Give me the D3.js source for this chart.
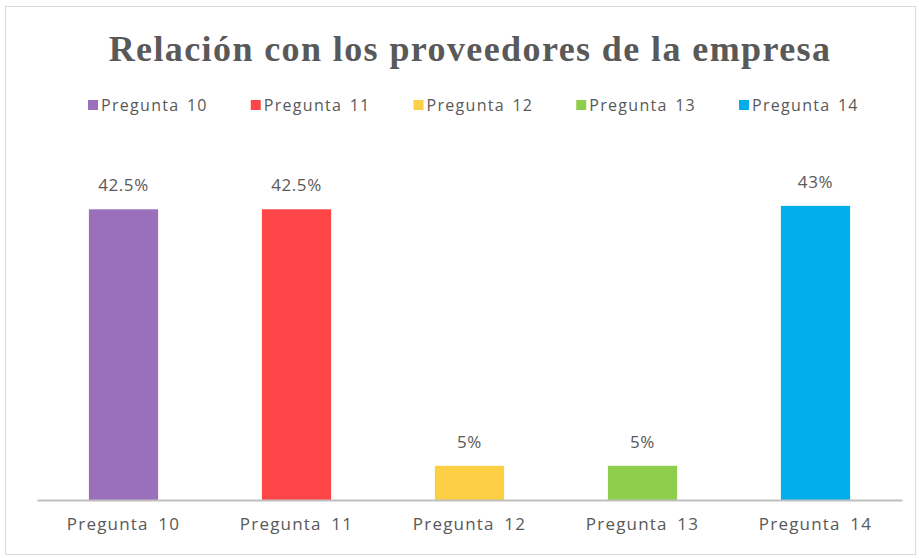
<!DOCTYPE html>
<html>
<head>
<meta charset="utf-8">
<script src="https://cdn.jsdelivr.net/npm/d3@7"></script>
<style>
  body { margin: 0; background: #fff; }
  text { font-family: "Open Sans", "Noto Sans", sans-serif; fill: #595959; }
</style>
</head>
<body>
<div id="chart"></div>
<script>
// Data
let categories = ['Pregunta 10', 'Pregunta 11', 'Pregunta 12', 'Pregunta 13', 'Pregunta 14'];
let values = [42.5, 42.5, 5, 5, 43];
let valueLabels = ['42.5%', '42.5%', '5%', '5%', '43%'];
let colors = ['#9a6fbc', '#fe4548', '#fdcf45', '#8fcd4c', '#01aeeb'];

let W = 919, H = 558;
let margin = { top: 158, right: 17, bottom: 58, left: 37 },
    width = W - margin.left - margin.right,
    height = H - margin.top - margin.bottom;

let svg = d3.select('#chart')
    .append('svg')
    .attr('width', W)
    .attr('height', H);

// chart frame
svg.append('rect')
    .attr('x', 5.5).attr('y', 6.5)
    .attr('width', W - 9).attr('height', H - 10)
    .attr('fill', '#fff')
    .attr('stroke', '#d9d9d9');

// Title
svg.append('text')
    .attr('x', 470)
    .attr('y', 61)
    .attr('text-anchor', 'middle')
    .style('font-family', '"Liberation Serif", "DejaVu Serif", serif')
    .style('font-weight', 'bold')
    .style('font-size', '36px')
    .style('letter-spacing', '1.4px')
    .text('Relación con los proveedores de la empresa');

// Legend
let legendX = d3.scalePoint().domain(categories).range([88, 739]);
let legend = svg.append('g').selectAll('g')
    .data(categories)
    .enter().append('g')
    .attr('transform', function (d) { return 'translate(' + legendX(d) + ',105)'; });
legend.append('rect')
    .attr('x', 0).attr('y', -5)
    .attr('width', 10).attr('height', 10)
    .attr('fill', function (d, i) { return colors[i]; });
legend.append('text')
    .attr('x', 13).attr('y', 6)
    .style('font-size', '16px')
    .style('letter-spacing', '1.3px')
    .style('word-spacing', '2px')
    .text(function (d) { return d; });

// Scales
let x = d3.scaleBand().domain(categories).range([0, width]).paddingInner(0.6).paddingOuter(0.3);
let y = d3.scaleLinear().domain([0, 50]).range([height, 0]);

let g = svg.append('g')
    .attr('transform', 'translate(' + margin.left + ',' + margin.top + ')');

// Bars
g.selectAll('.bar')
    .data(values)
    .enter().append('rect')
    .attr('class', 'bar')
    .attr('x', function (d, i) { return x(categories[i]); })
    .attr('y', function (d) { return y(d); })
    .attr('width', x.bandwidth())
    .attr('height', function (d) { return height - y(d); })
    .attr('fill', function (d, i) { return colors[i]; });

// Value labels
g.selectAll('.val')
    .data(values)
    .enter().append('text')
    .attr('class', 'val')
    .attr('x', function (d, i) { return x(categories[i]) + x.bandwidth() / 2; })
    .attr('y', function (d) { return y(d) - 18; })
    .attr('text-anchor', 'middle')
    .style('font-size', '17px')
    .style('letter-spacing', '0.6px')
    .text(function (d, i) { return valueLabels[i]; });

// X axis
let xAxis = g.append('g')
    .attr('transform', 'translate(0,' + height + ')')
    .call(d3.axisBottom(x).tickSize(0).tickPadding(18));
xAxis.select('.domain').attr('stroke', '#bfbfbf').attr('stroke-width', 2);
xAxis.selectAll('text')
    .style('font-size', '17px')
    .style('letter-spacing', '1.2px')
    .style('word-spacing', '4px')
    .style('font-family', '"Open Sans", "Noto Sans", sans-serif')
    .attr('fill', '#595959');
</script>
</body>
</html>
